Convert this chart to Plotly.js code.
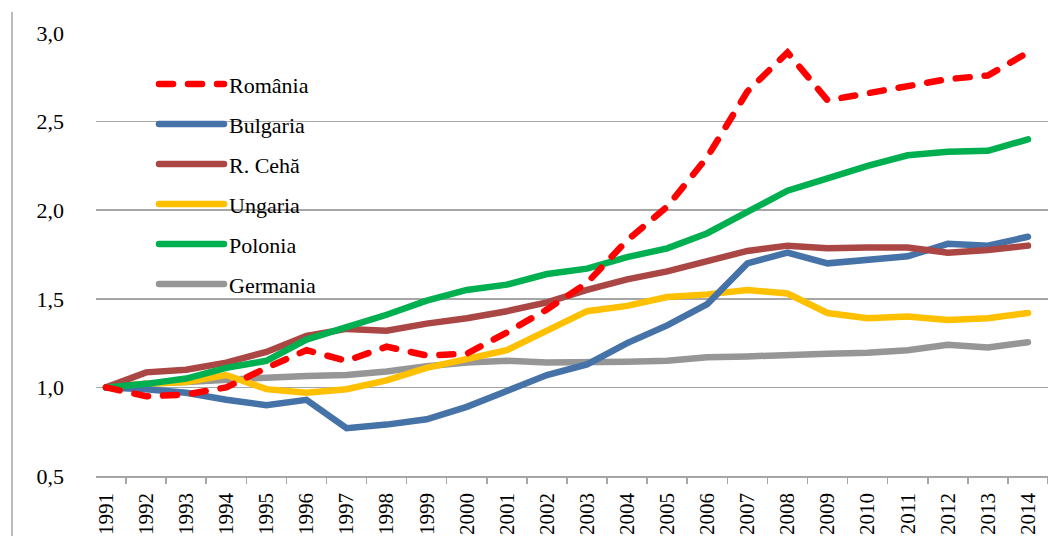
<!DOCTYPE html>
<html>
<head>
<meta charset="utf-8">
<script src="https://cdn.plot.ly/plotly-3.0.1.min.js"></script>
<style>
html,body{margin:0;padding:0;background:#fff;}
#chart{width:1048px;height:536px;}
.js-line{stroke-linecap:round;}
</style>
</head>
<body>
<div id="chart"></div>
<script>
const years = ["1991","1992","1993","1994","1995","1996","1997","1998","1999","2000","2001","2002","2003","2004","2005","2006","2007","2008","2009","2010","2011","2012","2013","2014"];
const romania  = [1.00,0.95,0.96,1.00,1.11,1.21,1.15,1.23,1.18,1.19,1.31,1.44,1.59,1.83,2.02,2.30,2.67,2.89,2.62,2.66,2.70,2.74,2.76,2.89];
const bulgaria = [1.00,0.99,0.97,0.93,0.90,0.93,0.77,0.79,0.82,0.89,0.98,1.07,1.13,1.25,1.35,1.47,1.70,1.76,1.70,1.72,1.74,1.81,1.80,1.85];
const cehia    = [1.00,1.085,1.10,1.14,1.20,1.29,1.33,1.32,1.36,1.39,1.43,1.48,1.55,1.61,1.655,1.71,1.77,1.80,1.785,1.79,1.79,1.76,1.775,1.80];
const ungaria  = [1.00,1.02,1.03,1.07,0.99,0.97,0.99,1.04,1.11,1.16,1.21,1.32,1.43,1.46,1.51,1.525,1.55,1.53,1.42,1.39,1.40,1.38,1.39,1.42];
const polonia  = [1.00,1.02,1.05,1.11,1.15,1.27,1.34,1.41,1.49,1.55,1.58,1.64,1.67,1.735,1.785,1.87,1.99,2.11,2.18,2.25,2.31,2.33,2.335,2.40];
const germania = [1.00,1.02,1.03,1.045,1.055,1.065,1.07,1.09,1.12,1.14,1.15,1.14,1.14,1.145,1.15,1.17,1.175,1.185,1.19,1.195,1.21,1.24,1.225,1.255];

const seriesNames = ["România","Bulgaria","R. Cehă","Ungaria","Polonia","Germania"];
const seriesData = [romania,bulgaria,cehia,ungaria,polonia,germania];
const colors = ["#FF0000","#4572A7","#AA4643","#FFC000","#00B050","#969696"];
const dashes = ["14px,15px","solid","solid","solid","solid","solid"];

const traces = seriesNames.map((n,i)=>({
  type:'scatter', mode:'lines', name:n, x:years, y:seriesData[i],
  legendgroup:'g'+i, legendrank:i+1,
  line:{color:colors[i], width:6.5, dash:dashes[i]},
  hoverinfo:'skip'
}));
// draw order: Romania on top
const ordered = [traces[5],traces[3],traces[1],traces[2],traces[4],traces[0]];

const font = {family:'"Liberation Serif","Times New Roman",serif', size:22, color:'#000'};
const xfont = {family:'"Liberation Serif","Times New Roman",serif', size:21, color:'#000'};

const layout = {
  width:1048, height:536,
  margin:{l:96, r:0, t:33, b:60, pad:0},
  paper_bgcolor:'#fff', plot_bgcolor:'#fff',
  separators:',.',
  font:font,
  showlegend:true,
  legend:{x:58/952, xanchor:'left', y:0.932, yanchor:'top', bgcolor:'rgba(255,255,255,0)', borderwidth:0,
          font:font, traceorder:'grouped', tracegroupgap:8.4, itemwidth:65},
  xaxis:{type:'category', range:[-0.25,23.5], showgrid:false, zeroline:false,
         showline:true, linecolor:'#A6A6A6', linewidth:1.5,
         ticks:'outside', ticklen:6, tickcolor:'#A6A6A6', tickwidth:1.5, tickson:'boundaries',
         tickangle:-90, tickfont:xfont, ticklabelstandoff:7, fixedrange:true},
  yaxis:{range:[0.5,3.0], dtick:0.5, tick0:0.5, tickformat:'.1f', showgrid:true,
         gridcolor:'#A6A6A6', gridwidth:1.5, zeroline:false, showline:false,
         ticks:'', tickfont:font, ticklabelstandoff:31, fixedrange:true},
  shapes:[
    {type:'line', xref:'paper', yref:'paper', x0:-84/952, x1:-84/952, y0:1+21/443, y1:-60/443,
     line:{color:'#A6A6A6', width:1.5}},
    {type:'rect', xref:'paper', yref:'paper', layer:'between', x0:19/952, x1:259/952, y0:(476-305)/443, y1:(476-50)/443,
     fillcolor:'#fff', line:{width:0}}
  ]
};
Plotly.newPlot('chart', ordered, layout, {staticPlot:true, displayModeBar:false});
</script>
</body>
</html>
